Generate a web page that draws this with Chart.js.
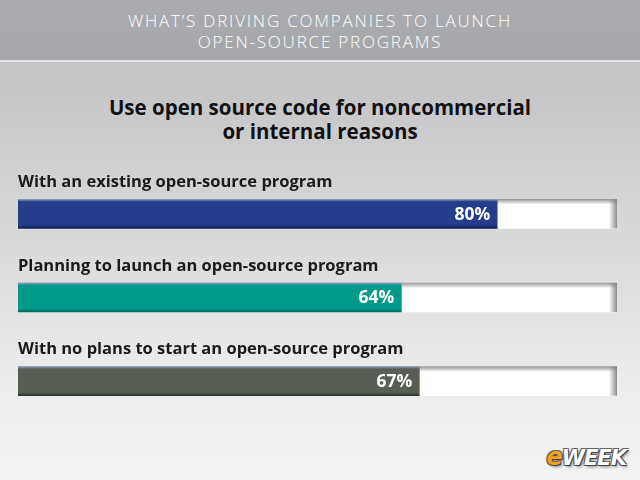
<!DOCTYPE html>
<html>
<head>
<meta charset="utf-8">
<script src="https://cdn.jsdelivr.net/npm/chart.js@4.4.1/dist/chart.umd.min.js"></script>
<style>
  html, body { margin: 0; padding: 0; }
  #page {
    position: relative; width: 640px; height: 480px; overflow: hidden;
    background: linear-gradient(to bottom, #c2c2c4 0px, #c6c6c8 90px, #dcdcdd 260px, #ececec 380px, #f3f3f3 480px);
    font-family: "Open Sans", sans-serif;
  }
  #header {
    position: absolute; left: 0; top: 0; width: 640px; height: 62px;
    background: linear-gradient(to bottom, #aaabae, #a6a7aa);
    border-bottom: 2px solid #e6e6e8;
    color: #fff; text-align: center; font-weight: 300; font-size: 17px; line-height: 21px;
    padding-top: 10px; box-sizing: border-box; letter-spacing: 1.8px;
  }
  #title {
    position: absolute; left: 0; top: 95px; width: 640px; text-align: center;
    font-weight: 700; font-size: 20.5px; line-height: 24px; color: #111;
  }
  #chartBox { position: absolute; left: 0; top: 150px; width: 640px; height: 290px; }
  #logo {
    position: absolute; right: 14px; bottom: 9px; font-family: "DejaVu Sans", sans-serif;
    font-weight: 700; font-style: italic; font-size: 21px; letter-spacing: -1px;
    color: #fff; text-shadow: 1px 1px 0 #444, -1px -1px 0 #666, 1px -1px 0 #666, -1px 1px 0 #666, 2px 2px 3px #888;
  }
  #logo span { color: #f0a020; font-size: 24px; }
</style>
</head>
<body>
<div id="page">
  <div id="header">WHAT’S DRIVING COMPANIES TO LAUNCH<br>OPEN-SOURCE PROGRAMS</div>
  <div id="title">Use open source code for noncommercial<br>or internal reasons</div>
  <div id="chartBox"><canvas id="chart"></canvas></div>
  <div id="logo"><span>e</span>WEEK</div>
</div>
<script>
const categories = [
  'With an existing open-source program',
  'Planning to launch an open-source program',
  'With no plans to start an open-source program'
];
const values = [80, 64, 67];
const trackValues = [100, 100, 100];
const barColors = ['#243d8c', '#009a8a', '#575f55'];
const barDark = ['#0d1a52', '#006458', '#2f352e'];

const BAR_H = 29;

function barGradient(chart, i) {
  const y = chart.scales.y.getPixelForValue(i);
  const top = y - BAR_H / 2, bottom = y + BAR_H / 2;
  const g = chart.ctx.createLinearGradient(0, top, 0, bottom);
  g.addColorStop(0, '#8d9ab8');
  g.addColorStop(0.08, barColors[i]);
  g.addColorStop(0.88, barColors[i]);
  g.addColorStop(1, barDark[i]);
  return g;
}

function trackGradient(chart, i) {
  const y = chart.scales.y.getPixelForValue(i);
  const top = y - BAR_H / 2, bottom = y + BAR_H / 2;
  const g = chart.ctx.createLinearGradient(0, top, 0, bottom);
  g.addColorStop(0, '#9a9a9a');
  g.addColorStop(0.18, '#ffffff');
  g.addColorStop(1, '#ffffff');
  return g;
}

// category labels above bars, value labels inside bar ends
const labelPlugin = {
  id: 'labelPlugin',
  afterDatasetsDraw(chart) {
    const ctx = chart.ctx;
    const meta = chart.getDatasetMeta(0);
    ctx.save();
    meta.data.forEach((bar, i) => {
      ctx.font = '700 16.5px "Open Sans"';
      ctx.fillStyle = '#1a1a1a';
      ctx.textAlign = 'left';
      ctx.textBaseline = 'middle';
      ctx.fillText(categories[i], chart.chartArea.left, bar.y - BAR_H / 2 - 17);

      ctx.font = '700 17.5px "Open Sans"';
      ctx.fillStyle = '#ffffff';
      ctx.textAlign = 'right';
      ctx.fillText(values[i] + '%', bar.x - 7, bar.y + 1);
    });
    // right-edge shadow on the tracks
    const trackMeta = chart.getDatasetMeta(1);
    trackMeta.data.forEach(bar => {
      const g = ctx.createLinearGradient(bar.x - 8, 0, bar.x, 0);
      g.addColorStop(0, 'rgba(120,120,120,0)');
      g.addColorStop(1, 'rgba(120,120,120,0.85)');
      ctx.fillStyle = g;
      ctx.fillRect(bar.x - 8, bar.y - BAR_H / 2, 8, BAR_H);
    });
    ctx.restore();
  }
};

new Chart(document.getElementById('chart'), {
  type: 'bar',
  data: {
    labels: categories,
    datasets: [
      {
        data: values,
        grouped: false,
        order: 0,
        barThickness: BAR_H,
        borderWidth: 0,
        backgroundColor: c => c.chart.chartArea ? barGradient(c.chart, c.dataIndex) : barColors[c.dataIndex]
      },
      {
        data: trackValues,
        grouped: false,
        order: 1,
        barThickness: BAR_H,
        borderWidth: 0,
        backgroundColor: c => c.chart.chartArea ? trackGradient(c.chart, c.dataIndex) : '#ffffff'
      }
    ]
  },
  options: {
    indexAxis: 'y',
    responsive: true,
    maintainAspectRatio: false,
    animation: false,
    layout: { padding: { left: 18, right: 23, top: 22, bottom: 17 } },
    plugins: { legend: { display: false }, tooltip: { enabled: false } },
    scales: {
      x: { display: false, min: 0, max: 100 },
      y: { display: false, offset: true }
    }
  },
  plugins: [labelPlugin]
});
</script>
</body>
</html>
